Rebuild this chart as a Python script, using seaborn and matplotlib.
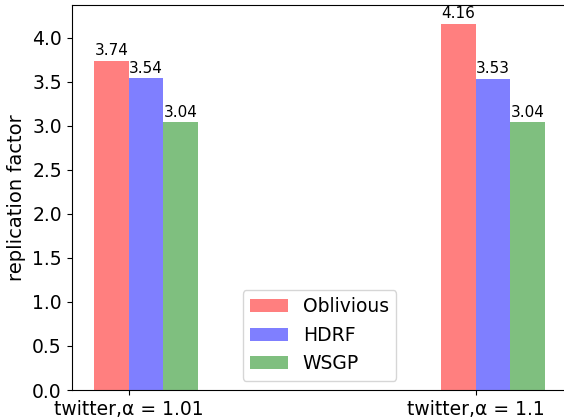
import matplotlib
matplotlib.use("Agg")
import matplotlib.pyplot as plt
import seaborn as sns
import pandas as pd

# data
datasets = ["twitter,α = 1.01", "twitter,α = 1.1"]
methods = ["Oblivious", "HDRF", "WSGP"]
oblivious = [3.74, 4.16]
hdrf = [3.54, 3.53]
wsgp = [3.04, 3.04]

colors = ["red", "blue", "green"]

df = pd.DataFrame({
    "dataset": datasets * 3,
    "method": [m for m in methods for _ in datasets],
    "value": oblivious + hdrf + wsgp,
})

fig = plt.figure(figsize=(5.64, 4.19), dpi=100)
ax = fig.add_axes([0.1268, 0.0692, 0.8794, 0.9177])

sns.barplot(data=df, x="dataset", y="value", hue="method", hue_order=methods,
            palette=colors, saturation=1, alpha=0.5, width=0.3,
            errorbar=None, linewidth=0, ax=ax)

# value labels on top of each bar
for c in ax.containers:
    ax.bar_label(c, fmt="%.2f", padding=2, fontsize=11)

# ticks sit at the left edge of the middle bar
ax.set_xticks([i - 0.05 for i in range(len(datasets))])
ax.set_xticklabels(datasets, fontsize=13.5)
ax.tick_params(axis="y", labelsize=13.5)
ax.set_xlabel("")
ax.set_ylabel("replication factor", fontsize=14)
ax.set_xlim(-0.215, 1.215)
ax.set_ylim(0, 4.368)

ax.legend(loc="lower center", fontsize=13.5)

fig.savefig("out.png", dpi=100)
